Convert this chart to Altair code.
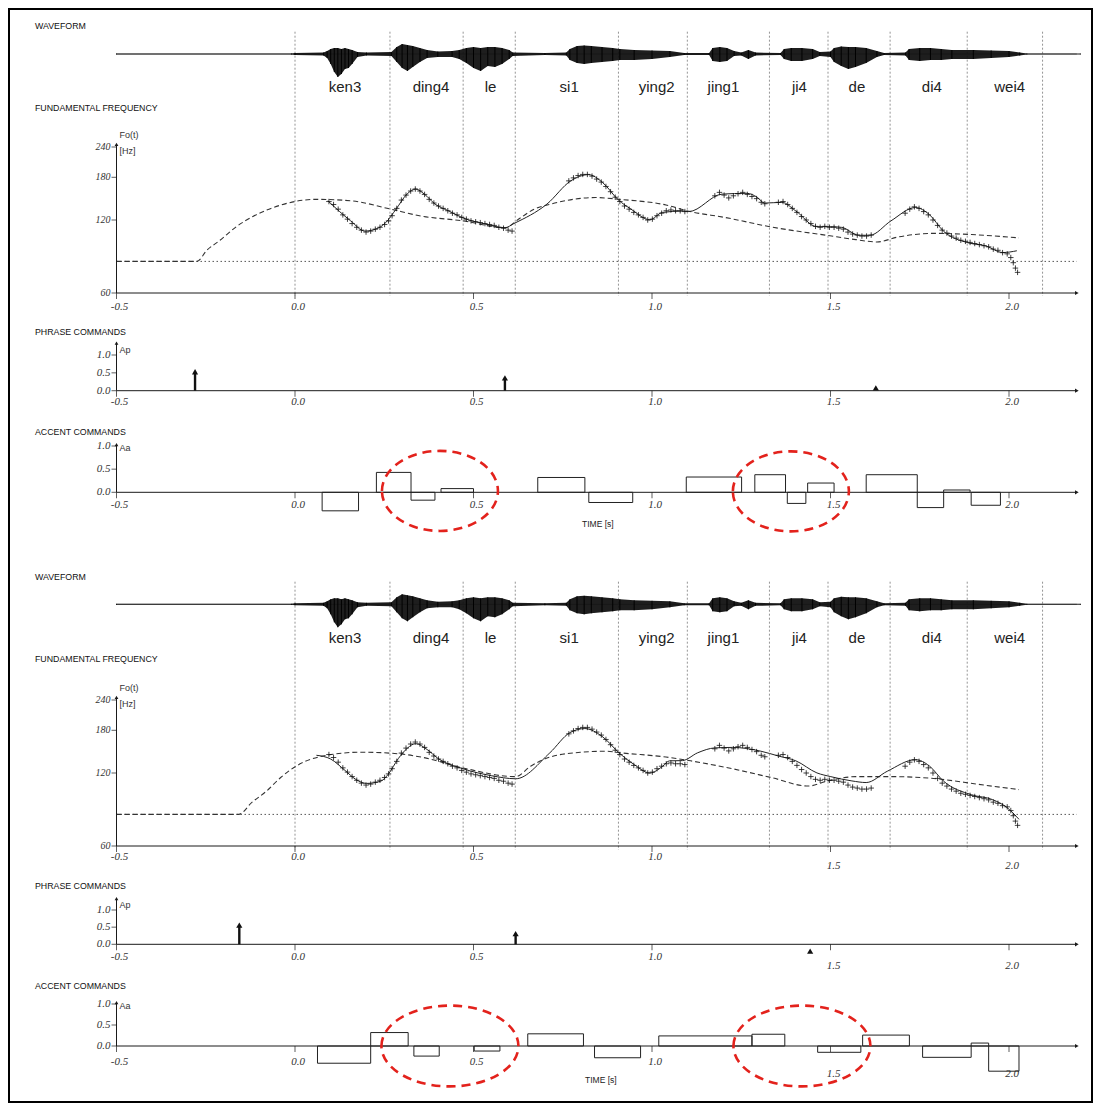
import altair as alt
import pandas as pd

W, H = 1085, 1095
INK = "#1a1a1a"
SANS = "Liberation Sans"
SERIF = "Liberation Serif"
RED = "#e3221c"
AXIS_END = 2.19

# ---------------- data ----------------
SECTION_TITLES = ["WAVEFORM", "FUNDAMENTAL FREQUENCY", "PHRASE COMMANDS", "ACCENT COMMANDS"]
SYLLABLES = ["ken3", "ding4", "le", "si1", "ying2", "jing1", "ji4", "de", "di4", "wei4"]
SYL_T = [0.14, 0.381, 0.548, 0.768, 1.013, 1.20, 1.413, 1.574, 1.784, 2.002]
BOUNDARIES = [0.0, 0.266, 0.471, 0.617, 0.906, 1.099, 1.329, 1.493, 1.667, 1.883, 2.094]

TIME_TICKS = [-0.5, 0.0, 0.5, 1.0, 1.5, 2.0]
TIME_LABELS = ["-0.5", "0.0", "0.5", "1.0", "1.5", "2.0"]
F0_TICKS = [60, 120, 180, 240]
F0_LABELS = ["60", "120", "180", "240"]
CMD_TICKS = [0.0, 0.5, 1.0]
CMD_LABELS = ["0.0", "0.5", "1.0"]
FB = 81

# waveform envelope (amplitude above / below the baseline)
WAVE_T = [-0.5, -0.01, 0.0, 0.08, 0.09, 0.10, 0.11, 0.12, 0.13, 0.14, 0.15, 0.16, 0.175, 0.20,
          0.27, 0.285, 0.30, 0.315, 0.33, 0.35, 0.37, 0.40, 0.44, 0.46, 0.48, 0.50, 0.52, 0.54,
          0.56, 0.58, 0.60, 0.61, 0.70, 0.76, 0.77, 0.79, 0.81, 0.83, 0.86, 0.89, 0.91, 0.95,
          1.00, 1.05, 1.09, 1.16, 1.17, 1.19, 1.21, 1.23, 1.25, 1.27, 1.29, 1.36, 1.37, 1.39,
          1.42, 1.45, 1.47, 1.50, 1.51, 1.53, 1.55, 1.57, 1.60, 1.63, 1.65, 1.71, 1.72, 1.75,
          1.78, 1.81, 1.84, 1.90, 1.95, 2.00, 2.03, 2.05, 2.20]
WAVE_UP = [0.5, 0.5, 1, 1.5, 3, 5, 6, 6, 5, 6, 5, 4, 2, 1.5,
           2, 7, 10, 9, 8, 6, 4, 2.5, 3, 4, 6, 7, 6, 7,
           7, 6, 4, 1.5, 1, 1.5, 5, 8, 8.5, 8, 7, 6, 5, 4,
           3.5, 3, 1, 1, 6, 7, 6, 3, 1.5, 4, 1.5, 1, 5, 6,
           6, 5, 2, 2.5, 6, 7.5, 7, 7, 6, 3, 1, 1.5, 5, 6,
           6, 5, 4, 4, 3.5, 3, 1.5, 0.5, 0.5]
WAVE_DN = [-0.5, -0.5, -1, -1.5, -4, -10, -18, -23, -20, -15, -14, -10, -3, -1.5,
           -2, -8, -14, -17, -13, -8, -4, -3, -3, -5, -9, -14, -17, -12,
           -13, -10, -5, -2, -1, -1.5, -6, -9, -10, -9, -8, -7, -6, -6,
           -5, -3, -1, -1, -7, -8, -7, -2, -1.5, -5, -1.5, -1, -5, -7,
           -7, -5, -2, -3, -8, -12, -15, -13, -9, -3, -1, -1.5, -6, -7,
           -6, -6, -5, -5, -4, -3, -1.5, -0.5, -0.5]

# observed F0 (same utterance in both analyses)
OBS_T = [0.095, 0.108, 0.121, 0.134, 0.147, 0.160, 0.173, 0.186, 0.199, 0.212, 0.225, 0.238, 0.251, 0.262,
         0.272, 0.285, 0.298, 0.311, 0.324, 0.337, 0.350, 0.363, 0.376, 0.389, 0.402, 0.415, 0.428,
         0.441, 0.454, 0.467, 0.480, 0.493, 0.506, 0.519, 0.532, 0.545, 0.558, 0.571, 0.584, 0.597, 0.608,
         0.767, 0.780, 0.793, 0.806, 0.819, 0.832, 0.845, 0.858, 0.871, 0.884, 0.897, 0.910, 0.923,
         0.936, 0.949, 0.962, 0.975, 0.988, 1.001, 1.014, 1.027, 1.040, 1.053, 1.066, 1.079, 1.092,
         1.176, 1.189, 1.202, 1.215, 1.228, 1.241, 1.254, 1.267, 1.280, 1.293, 1.306, 1.316,
         1.354, 1.367, 1.380, 1.393, 1.406, 1.419, 1.432, 1.445, 1.458, 1.471, 1.484, 1.497, 1.510,
         1.523, 1.536, 1.549, 1.562, 1.575, 1.588, 1.601, 1.614,
         1.709, 1.722, 1.735, 1.748, 1.761, 1.774, 1.787, 1.800, 1.813, 1.826, 1.839, 1.852, 1.865,
         1.878, 1.891, 1.904, 1.917, 1.930, 1.943, 1.956, 1.969, 1.982, 1.995, 2.005, 2.012, 2.018, 2.024]
OBS_F = [143, 139, 133, 126, 121, 116, 112, 109, 107, 108, 110, 112, 115, 119,
         125, 134, 145, 152, 158, 161, 158, 153, 146, 141, 137, 134, 131,
         128, 126, 123, 121, 119, 118, 117, 116, 115, 114, 112, 111, 109, 108,
         174, 179, 183, 185, 185, 182, 177, 172, 165, 157, 149, 143, 137,
         133, 129, 126, 123, 120, 121, 125, 128, 131, 132, 131, 131, 130,
         151, 156, 152, 148, 151, 154, 156, 153, 150, 147, 142, 140,
         142, 143, 139, 134, 129, 124, 120, 116, 113, 112, 113, 112, 112,
         111, 110, 107, 105, 104, 103, 103, 104,
         128, 133, 136, 134, 130, 126, 120, 114, 109, 106, 103, 101, 99,
         98, 97, 96, 95, 94, 93, 91, 90, 88, 87, 84, 80, 76, 73]

# upper analysis
TOP_MODEL_T = [0.092, 0.156, 0.196, 0.235, 0.254, 0.283, 0.314, 0.338, 0.362, 0.392, 0.431, 0.471,
               0.529, 0.588, 0.613, 0.706, 0.773, 0.822, 0.862, 0.906, 0.941, 0.994, 1.029, 1.088,
               1.103, 1.196, 1.266, 1.295, 1.315, 1.364, 1.403, 1.462, 1.501, 1.531, 1.58, 1.61,
               1.669, 1.738, 1.777, 1.816, 1.885, 1.935, 1.983, 2.022]
TOP_MODEL_F = [144, 119, 108, 111.5, 117, 133, 153.6, 161, 153.6, 139.7, 130.7, 122.3,
               115.9, 111.5, 116, 139.7, 174.2, 184.6, 171.1, 145.1, 133.1, 120.3, 128.9, 130.7,
               130, 153.4, 154.6, 148.8, 140.9, 141.9, 130.7, 112.6, 112.6, 111.9, 103.8, 103.8,
               118.9, 135.1, 126.3, 108.1, 96.7, 93.8, 88.1, 89.6]
TOP_PHRASE_T = [-0.5, -0.275, -0.247, -0.21, -0.163, -0.118, -0.042, 0.06, 0.156, 0.264, 0.353,
                0.471, 0.588, 0.63, 0.67, 0.714, 0.842, 0.911, 1.039, 1.103, 1.206, 1.334, 1.492,
                1.571, 1.63, 1.689, 1.787, 1.895, 2.028]
TOP_PHRASE_F = [81, 81, 90, 99, 113, 124, 138, 146, 144, 133.5, 124.6,
                119, 111.5, 122, 133, 139.3, 148.5, 145.9, 138.4, 130.4, 122.8, 112.3, 103.6,
                99.6, 97.4, 102.1, 105.7, 104.5, 101.3]
TOP_AP_T = [-0.28, 0.588, 1.627]
TOP_AP = [0.53, 0.36, 0.08]
TOP_AA_T1 = [0.076, 0.228, 0.325, 0.409, 0.680, 0.823, 1.096, 1.288, 1.379, 1.436, 1.600, 1.743, 1.817, 1.894]
TOP_AA_T2 = [0.178, 0.325, 0.392, 0.500, 0.812, 0.946, 1.251, 1.374, 1.431, 1.510, 1.743, 1.817, 1.891, 1.976]
TOP_AA = [-0.40, 0.43, -0.17, 0.08, 0.32, -0.22, 0.33, 0.38, -0.24, 0.20, 0.38, -0.33, 0.05, -0.28]
TOP_RINGS_T = [0.406, 1.389]
TOP_RINGS_A = [0.03, 0.02]

# lower analysis
BOT_MODEL_T = [0.06, 0.10, 0.14, 0.17, 0.20, 0.24, 0.26, 0.29, 0.315, 0.338, 0.37, 0.40, 0.471,
               0.55, 0.618, 0.714, 0.77, 0.812, 0.86, 0.911, 0.95, 0.994, 1.03, 1.049, 1.085,
               1.128, 1.176, 1.226, 1.305, 1.354, 1.403, 1.462, 1.501, 1.56, 1.60, 1.659, 1.738,
               1.777, 1.816, 1.895, 1.954, 1.994, 2.028]
BOT_MODEL_F = [142, 137, 123, 113, 108.7, 111, 118, 138, 152, 158.6, 150, 138, 124.9,
               117, 113.6, 145.4, 176, 183, 170, 143.8, 130, 120, 128, 134.7, 135,
               145.4, 152.3, 153, 147.6, 141, 134.7, 120.1, 115.9, 111.3, 109.6, 122, 136.2,
               128.3, 111.3, 97.6, 93.2, 86.5, 77.3]
BOT_PHRASE_T = [-0.5, -0.158, -0.12, -0.08, -0.04, 0.004, 0.078, 0.186, 0.294, 0.353, 0.471, 0.618,
                0.66, 0.714, 0.803, 0.871, 0.911, 1.039, 1.108, 1.226, 1.334, 1.438, 1.492,
                1.571, 1.679, 1.797, 1.915, 2.028]
BOT_PHRASE_F = [81, 81, 91, 101, 115, 128.3, 141, 146.2, 143.8, 139.6, 125.9, 115.9,
                128, 139.6, 146.2, 147.6, 145.4, 139.6, 134.7, 124.9, 114.9, 106, 111.3,
                115.9, 115.9, 113.6, 107.7, 102.5]
BOT_AP_T = [-0.156, 0.618, 1.443]
BOT_AP = [0.56, 0.31, -0.2]
BOT_AA_T1 = [0.063, 0.212, 0.333, 0.502, 0.652, 0.839, 1.019, 1.280, 1.464, 1.590, 1.758, 1.894, 1.943]
BOT_AA_T2 = [0.212, 0.317, 0.404, 0.574, 0.808, 0.968, 1.280, 1.372, 1.585, 1.721, 1.894, 1.943, 2.028]
BOT_AA = [-0.41, 0.32, -0.24, -0.12, 0.29, -0.28, 0.24, 0.28, -0.15, 0.26, -0.27, 0.07, -0.60]
BOT_RINGS_T = [0.434, 1.42]
BOT_RINGS_A = [0.0, 0.0]

# ---------------- helpers ----------------
XS = alt.Scale(domain=[-0.5, 2.0], range=[108.5, 1001.0], nice=False, zero=False)


def X(f="t"):
    return alt.X(f"{f}:Q", scale=XS, axis=None)


def Y(f, sc):
    return alt.Y(f"{f}:Q", scale=sc, axis=None)


def lin(lo_px, hi_px, dom):
    return alt.Scale(domain=dom, range=[lo_px, hi_px], nice=False, zero=False)


def logs(lo_px, hi_px):
    return alt.Scale(type="log", domain=[60, 240], range=[lo_px, hi_px], nice=False)


PLUS = "M-1,0L1,0M0,-1L0,1"


def ellipse_path(k):
    c = 0.5523
    return (f"M-1,0 C-1,{-c*k:.4f} {-c:.4f},{-k:.4f} 0,{-k:.4f} "
            f"C{c:.4f},{-k:.4f} 1,{-c*k:.4f} 1,0 "
            f"C1,{c*k:.4f} {c:.4f},{k:.4f} 0,{k:.4f} "
            f"C{-c:.4f},{k:.4f} -1,{c*k:.4f} -1,0 Z")


def y_axis(sc, vmin, vtop, ticks, labels, fs):
    L = []
    df = pd.DataFrame({"t": [-0.5], "v1": [vmin], "v2": [vtop]})
    L.append(alt.Chart(df).mark_rule(color=INK, strokeWidth=1).encode(
        x=X(), y=Y("v1", sc), y2=alt.Y2("v2")))
    L.append(alt.Chart(df).mark_point(shape="triangle-up", size=14, filled=True, color=INK, opacity=1).encode(
        x=X(), y=Y("v2", sc)))
    dt = pd.DataFrame({"t": [-0.5] * len(ticks), "v": ticks, "s": labels})
    L.append(alt.Chart(dt).mark_tick(orient="horizontal", size=5, thickness=1, xOffset=-2.5, color=INK).encode(
        x=X(), y=Y("v", sc)))
    L.append(alt.Chart(dt).mark_text(align="right", baseline="middle", dx=-6, font=SERIF, fontStyle="italic",
                                     fontSize=fs, color="#333").encode(x=X(), y=Y("v", sc), text="s:N"))
    return L


def x_axis(sc, base, dy_left, dy_right):
    L = []
    df = pd.DataFrame({"t": [-0.5], "t2": [AXIS_END], "v": [base]})
    L.append(alt.Chart(df).mark_rule(color=INK, strokeWidth=1).encode(x=X(), x2=alt.X2("t2"), y=Y("v", sc)))
    L.append(alt.Chart(df).mark_point(shape="triangle-right", size=18, filled=True, color=INK, opacity=1).encode(
        x=X("t2"), y=Y("v", sc)))
    dt = pd.DataFrame({"t": TIME_TICKS, "v": [base] * len(TIME_TICKS), "s": TIME_LABELS})
    L.append(alt.Chart(dt).mark_tick(orient="vertical", size=6, thickness=1, yOffset=3, color=INK).encode(
        x=X(), y=Y("v", sc)))
    left = dt[dt["t"] <= 1.0]
    right = dt[dt["t"] > 1.0]
    for part, dy in ((left, dy_left), (right, dy_right)):
        L.append(alt.Chart(part).mark_text(align="center", baseline="middle", dx=3, dy=dy, font=SERIF,
                                           fontStyle="italic", fontSize=11, color="#333").encode(
            x=X(), y=Y("v", sc), text="s:N"))
    return L


def half(c):
    L = []
    for txt, yy in zip(SECTION_TITLES, c["title_y"]):
        L.append(alt.Chart(pd.DataFrame({"s": [txt]})).mark_text(
            align="left", baseline="middle", font=SANS, fontSize=8.8, color="#111").encode(
            x=alt.value(27), y=alt.value(yy), text="s:N"))

    # syllable boundaries
    L.append(alt.Chart(pd.DataFrame({"t": BOUNDARIES})).mark_rule(
        color="#7a7a7a", strokeWidth=0.8, strokeDash=[2, 2]).encode(
        x=X(), y=alt.value(c["bound_y"][0]), y2=alt.value(c["bound_y"][1])))

    # waveform
    ws = lin(c["wave0"] + 25, c["wave0"] - 25, [-25, 25])
    L.append(alt.Chart(pd.DataFrame({"t": [-0.5], "t2": [AXIS_END], "z": [0]})).mark_rule(
        color="#777", strokeWidth=0.8).encode(x=X(), x2=alt.X2("t2"), y=Y("z", ws)))
    wdf = pd.DataFrame({"t": WAVE_T, "up": WAVE_UP, "dn": WAVE_DN})
    L.append(alt.Chart(wdf).mark_area(color="#0d0d0d", opacity=0.93).encode(x=X(), y=Y("up", ws), y2=alt.Y2("dn")))
    L.append(alt.Chart(wdf).mark_rule(color="#000", strokeWidth=1).encode(x=X(), y=Y("up", ws), y2=alt.Y2("dn")))

    L.append(alt.Chart(pd.DataFrame({"t": SYL_T, "s": SYLLABLES})).mark_text(
        font=SANS, fontSize=15, color="#222", baseline="middle").encode(
        x=X(), y=alt.value(c["syl_y"]), text="s:N"))

    # F0 panel
    fs = logs(*c["f0"])
    L.append(alt.Chart(pd.DataFrame({"t": [-0.5], "t2": [AXIS_END], "f": [FB]})).mark_rule(
        color="#555", strokeWidth=1, strokeDash=[1.5, 2.5]).encode(x=X(), x2=alt.X2("t2"), y=Y("f", fs)))
    L.append(alt.Chart(pd.DataFrame({"t": c["phr_t"], "f": c["phr_f"]})).mark_line(
        color="#333", strokeWidth=1.1, strokeDash=[5, 3], interpolate="monotone").encode(x=X(), y=Y("f", fs)))
    L.append(alt.Chart(pd.DataFrame({"t": c["mod_t"], "f": c["mod_f"]})).mark_line(
        color="#222", strokeWidth=1, interpolate="monotone").encode(x=X(), y=Y("f", fs)))
    L.append(alt.Chart(pd.DataFrame({"t": OBS_T, "f": OBS_F})).mark_point(
        shape=PLUS, size=30, filled=False, color="#111", strokeWidth=0.8, opacity=1).encode(x=X(), y=Y("f", fs)))
    L += y_axis(fs, 60, 246, F0_TICKS, F0_LABELS, 10)
    L += x_axis(fs, 60, *c["f0_dy"])
    L.append(alt.Chart(pd.DataFrame({"t": [-0.5, -0.5], "f": [270, 231], "s": ["Fo(t)", "[Hz]"]})).mark_text(
        align="left", baseline="middle", dx=3, font=SANS, fontSize=9, color="#333").encode(
        x=X(), y=Y("f", fs), text="s:N"))

    # phrase commands
    aps = lin(*c["ap"], [0, 1])
    L += y_axis(aps, 0, 1.33, CMD_TICKS, CMD_LABELS, 11)
    L += x_axis(aps, 0, *c["ap_dy"])
    L.append(alt.Chart(pd.DataFrame({"t": [-0.5], "v": [1.15], "s": ["Ap"]})).mark_text(
        align="left", baseline="middle", dx=3, font=SANS, fontSize=9, color="#333").encode(
        x=X(), y=Y("v", aps), text="s:N"))
    apdf = pd.DataFrame({"t": c["ap_t"], "a": c["ap_v"], "z": [0.0] * len(c["ap_t"])})
    L.append(alt.Chart(apdf).transform_filter("abs(datum.a) > 0.2").mark_rule(
        color="#111", strokeWidth=2.4).encode(x=X(), y=Y("z", aps), y2=alt.Y2("a")))
    L.append(alt.Chart(apdf).mark_point(shape="triangle-up", size=38, filled=True, color="#111", opacity=1).encode(
        x=X(), y=Y("a", aps)))

    # accent commands
    aas = lin(*c["aa"], [0, 1])
    L += y_axis(aas, 0, 1.03, CMD_TICKS, CMD_LABELS, 11)
    L += x_axis(aas, 0, *c["aa_dy"])
    L.append(alt.Chart(pd.DataFrame({"t": [-0.5], "v": [0.95], "s": ["Aa"]})).mark_text(
        align="left", baseline="middle", dx=3, font=SANS, fontSize=9, color="#333").encode(
        x=X(), y=Y("v", aas), text="s:N"))
    aadf = pd.DataFrame({"t1": c["aa_t1"], "t2": c["aa_t2"], "a": c["aa_v"], "z": [0.0] * len(c["aa_v"])})
    L.append(alt.Chart(aadf).mark_rect(filled=False, color="#222", strokeWidth=1).encode(
        x=X("t1"), x2=alt.X2("t2"), y=Y("z", aas), y2=alt.Y2("a")))
    L.append(alt.Chart(pd.DataFrame({"s": ["TIME [s]"]})).mark_text(
        align="left", baseline="middle", font=SANS, fontSize=8.5, color="#222").encode(
        x=alt.value(c["time_xy"][0]), y=alt.value(c["time_xy"][1]), text="s:N"))
    L.append(alt.Chart(pd.DataFrame({"t": c["ring_t"], "a": c["ring_a"]})).mark_point(
        shape=ellipse_path(c["ring_k"]), size=c["ring_size"], filled=False, color=RED, strokeWidth=2.6,
        strokeDash=[9, 6], opacity=1).encode(x=X(), y=Y("a", aas)))
    return L


TOP = dict(title_y=[18, 100, 323.7, 423.7], bound_y=[23.7, 288], wave0=46, syl_y=79,
           f0=[285, 139], ap=[382.7, 347], aa=[484.3, 438],
           f0_dy=(13.7, 13.7), ap_dy=(11, 11), aa_dy=(12.7, 12.7),
           phr_t=TOP_PHRASE_T, phr_f=TOP_PHRASE_F, mod_t=TOP_MODEL_T, mod_f=TOP_MODEL_F,
           ap_t=TOP_AP_T, ap_v=TOP_AP, aa_t1=TOP_AA_T1, aa_t2=TOP_AA_T2, aa_v=TOP_AA,
           time_xy=(574, 516), ring_t=TOP_RINGS_T, ring_a=TOP_RINGS_A, ring_k=0.69, ring_size=116 ** 2)
BOT = dict(title_y=[569.3, 651.3, 878, 978], bound_y=[573.7, 842], wave0=596.3, syl_y=630.3,
           f0=[838, 692], ap=[936.3, 902], aa=[1038, 996],
           f0_dy=(11, 20), ap_dy=(12.7, 22), aa_dy=(16, 28),
           phr_t=BOT_PHRASE_T, phr_f=BOT_PHRASE_F, mod_t=BOT_MODEL_T, mod_f=BOT_MODEL_F,
           ap_t=BOT_AP_T, ap_v=BOT_AP, aa_t1=BOT_AA_T1, aa_t2=BOT_AA_T2, aa_v=BOT_AA,
           time_xy=(577, 1072), ring_t=BOT_RINGS_T, ring_a=BOT_RINGS_A, ring_k=0.59, ring_size=137 ** 2)

layers = half(TOP) + half(BOT)

chart = alt.layer(*layers).resolve_scale(y="independent").properties(
    width=W, height=H, autosize=alt.AutoSizeParams(type="none"), padding=0
).configure_view(stroke="black", strokeWidth=4)

chart.save("out.html", embed_options={"renderer": "svg", "actions": False})
